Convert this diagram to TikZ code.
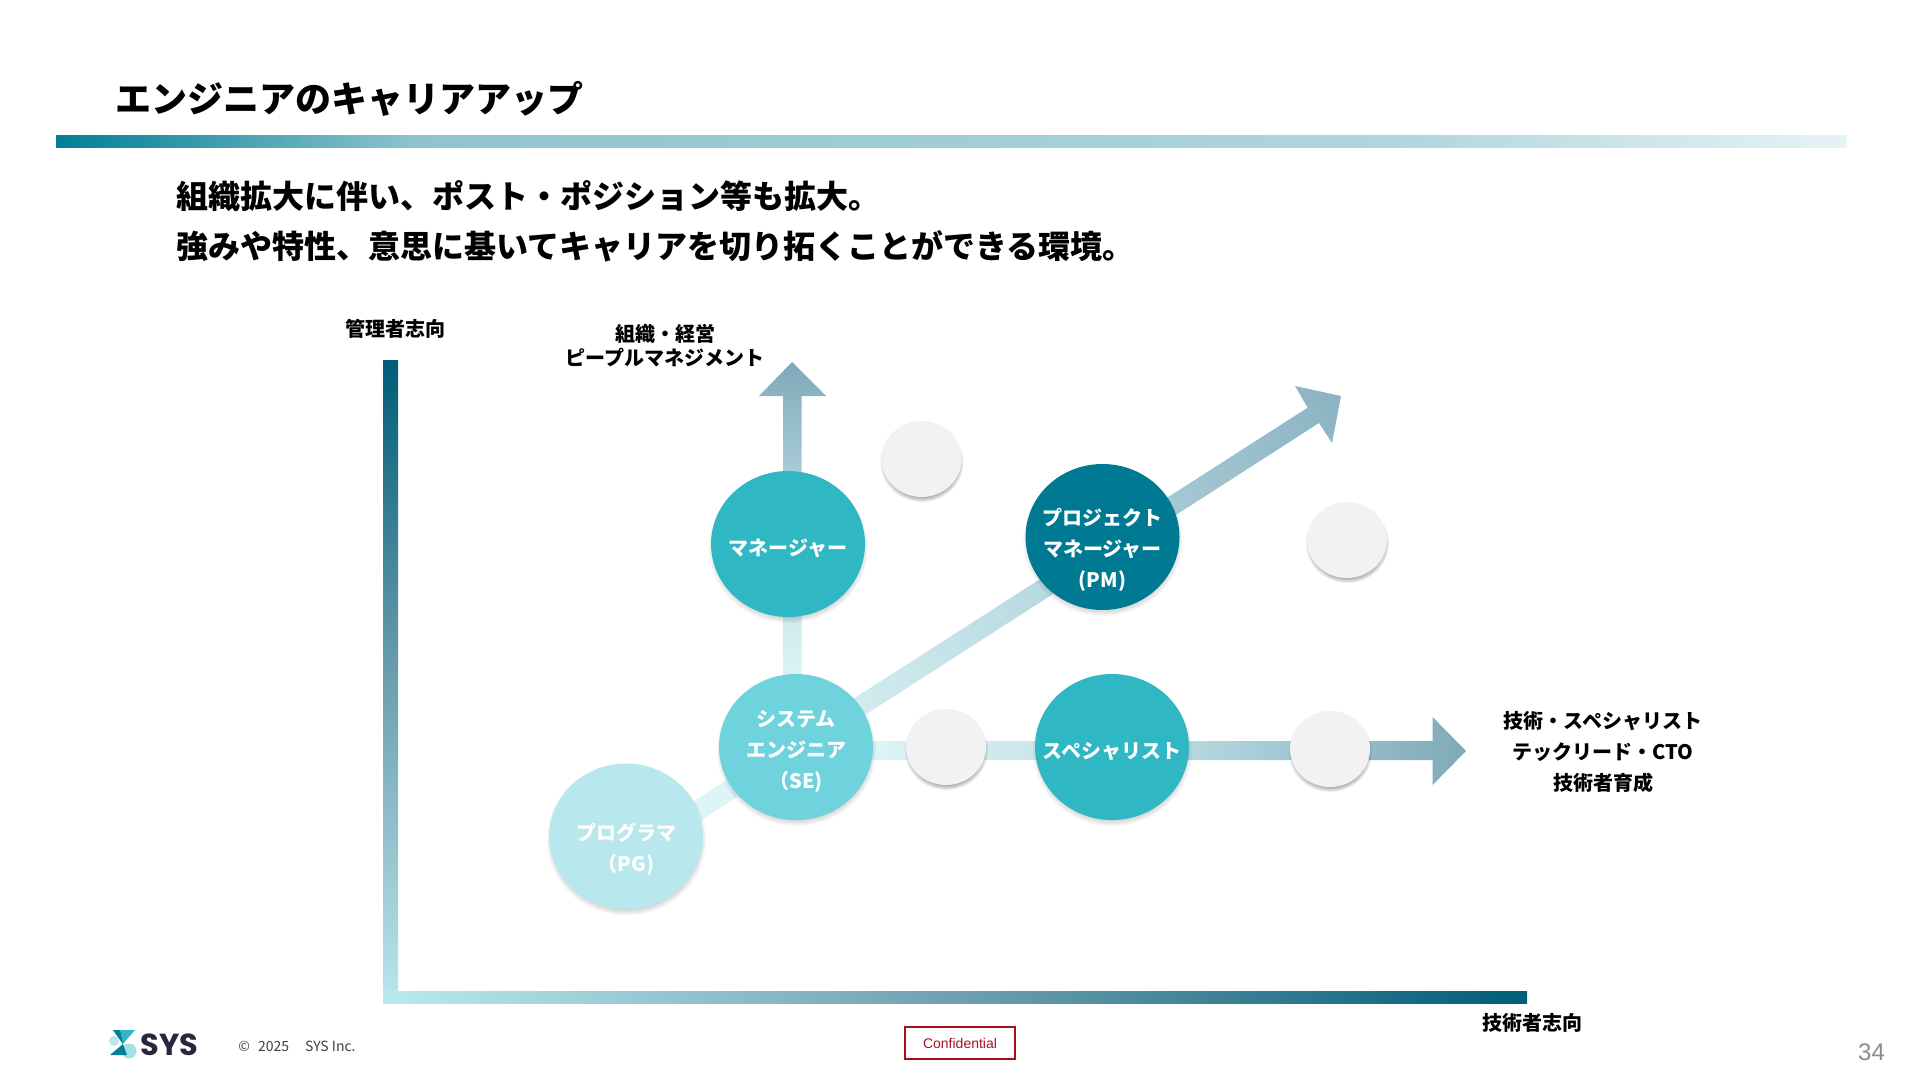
\documentclass[tikz,border=0pt]{standalone}
\usepackage{fontspec}
\usetikzlibrary{shapes.geometric,shadows,fadings}
\setmainfont{Noto Sans CJK JP}
\newfontfamily\arialish{Liberation Sans}
\newfontfamily\logofont{Poppins}
\definecolor{axisdark}{HTML}{005D78}
\definecolor{axismid}{HTML}{6E9FAF}
\definecolor{axislight}{HTML}{B8E8EC}
\definecolor{arrowlight}{HTML}{DFF4F6}
\definecolor{arrowmid}{HTML}{BBDDE3}
\definecolor{arrowmidb}{HTML}{A3C7D2}
\definecolor{arrowdark}{HTML}{7FA9BA}
\definecolor{barstart}{HTML}{007F96}
\definecolor{barmid}{HTML}{8FC4CE}
\definecolor{barmidb}{HTML}{B0D6DD}
\definecolor{barend}{HTML}{E6F3F5}
\definecolor{pgc}{HTML}{B8E8EE}
\definecolor{sec}{HTML}{6FD3DE}
\definecolor{mgc}{HTML}{2FB7C4}
\definecolor{pmc}{HTML}{007A93}
\definecolor{grayc}{HTML}{F2F2F2}
\definecolor{confred}{HTML}{A8101E}
\definecolor{logodark}{HTML}{2D2540}
\pgfdeclareverticalshading{diagshade}{100bp}{color(0bp)=(arrowlight); color(25bp)=(arrowlight); color(50bp)=(arrowmid); color(68bp)=(arrowmidb); color(92bp)=(arrowdark); color(100bp)=(arrowdark)}
\tikzset{
  x=0.5pt,y=-0.5pt,
  jp/.style={font=\fontsize{10}{12.25}\selectfont\bfseries,align=center,inner sep=0pt,text=black},
  rolet/.style={align=center,inner sep=0pt,text=white,font=\fontsize{10}{15.6}\selectfont\bfseries},
  rolec/.style={ellipse,minimum width=77pt,minimum height=73pt,inner sep=0pt,draw=none,
    circular drop shadow={shadow xshift=0pt,shadow yshift=-1.5pt,shadow scale=1.04,opacity=.4,fill=black!70}},
  blankc/.style={ellipse,minimum width=40pt,minimum height=38pt,inner sep=0pt,fill=grayc,draw=none,
    circular drop shadow={shadow xshift=0pt,shadow yshift=-1.5pt,shadow scale=1.05,opacity=.5,fill=black!70}},
}
\begin{document}
\begin{tikzpicture}
\useasboundingbox (0,0) rectangle (1920,1080);
% header
\node[anchor=west,inner sep=0pt,font=\fontsize{18}{18}\selectfont\bfseries] (title) at (115,99) {エンジニアのキャリアアップ};
\path[left color=barstart,right color=barmid] (56,135.5) rectangle (420,148);
\path[left color=barmid,right color=barmidb] (420,135.5) rectangle (1400,148);
\path[left color=barmidb,right color=barend] (1400,135.5) rectangle (1847,148);
\node[anchor=west,inner sep=0pt,font=\fontsize{16}{16}\selectfont\bfseries] (l1) at (176,196) {組織拡大に伴い、ポスト・ポジション等も拡大。};
\node[anchor=west,inner sep=0pt,font=\fontsize{16}{16}\selectfont\bfseries] (l2) at (176,246) {強みや特性、意思に基いてキャリアを切り拓くことができる環境。};
% axes
\path[top color=axisdark,bottom color=axislight,middle color=axismid] (383,360.5) rectangle (398,1003);
\path[left color=axislight,right color=axisdark,middle color=axismid] (398,991) rectangle (1527,1003);
\path[fill=axislight] (383,991) rectangle (398,1003);
\node[jp] (ymgr) at (395.5,329) {管理者志向};
\node[jp] (xtech) at (1532,1022.5) {技術者志向};
\node[jp] (ltop) at (665,345.5) {組織・経営\\ピープルマネジメント};
\node[jp,font=\fontsize{10}{15.6}\selectfont\bfseries] (lright) at (1603,752) {技術・スペシャリスト\\テックリード・CTO\\技術者育成};
% arrows
\path[bottom color=arrowlight,top color=arrowdark,middle color=arrowmid]
  (783,690) -- (783,396) -- (759,396) -- (792,362) -- (826,396) -- (801.5,396) -- (801.5,690) -- cycle;
\path[left color=arrowlight,right color=arrowdark,middle color=arrowmid]
  (860,741) -- (1432.6,741) -- (1432.6,717) -- (1466,751) -- (1432.6,785) -- (1432.6,760) -- (860,760) -- cycle;
\path[shade,shading=diagshade,shading angle=-57.3]
  (675,813) -- (1307.6,407.7) -- (1295,386) -- (1341,396) -- (1332,443) -- (1319,423) -- (686,830) -- cycle;
% roles
\node[rolec,fill=mgc,label={[rolet,yshift=-2pt]center:マネージャー}] (mg) at (788,544) {};
\node[rolec,fill=pgc,label={[rolet,yshift=-6.4pt]center:{プログラマ\\（PG)}}] (pg) at (626,836.5) {};
\node[rolec,fill=sec,label={[rolet,yshift=-2.1pt]center:{システム\\エンジニア\\（SE)}}] (se) at (796,747) {};
\node[rolec,fill=pmc,label={[rolet,yshift=-6.4pt]center:{プロジェクト\\マネージャー\\(PM)}}] (pm) at (1102.5,537) {};
\node[rolec,fill=mgc,label={[rolet,yshift=-2.1pt]center:スペシャリスト}] (sp) at (1112,747) {};
\node[blankc] (b1) at (921.6,459) {};
\node[blankc] (b2) at (1347,540) {};
\node[blankc] (b3) at (1330,749) {};
\node[blankc] (b4) at (946,747) {};
% footer
\fill[pgc] (114,1041) circle (5);
\fill[pgc!85!mgc] (129,1051) circle (7.5);
\fill[mgc] (113,1030) -- (135,1030) -- (123,1044) -- cycle;
\fill[barstart] (123,1044) -- (113,1030) -- (120,1030) -- cycle;
\fill[barstart] (110,1055) -- (123,1044) -- (127,1055) -- cycle;
\node[anchor=west,inner sep=0pt,text=logodark,font=\logofont\fontsize{15.2}{16}\selectfont\bfseries] (logo) at (140.5,1045) {SYS};
\node[anchor=west,inner sep=0pt,text=black!75,font=\fontsize{7}{8}\selectfont] (copy) at (238,1046) {©\hspace{4pt}2025\hspace{8pt}SYS Inc.};
\node[draw=confred,line width=1pt,minimum width=55pt,minimum height=16pt,inner sep=0pt,text=confred,font=\arialish\fontsize{7}{8}\selectfont] (conf) at (960,1043) {Confidential};
\node[inner sep=0pt,text=black!45,font=\arialish\fontsize{12}{12}\selectfont] (page) at (1871.5,1052) {34};
\end{tikzpicture}
\end{document}
